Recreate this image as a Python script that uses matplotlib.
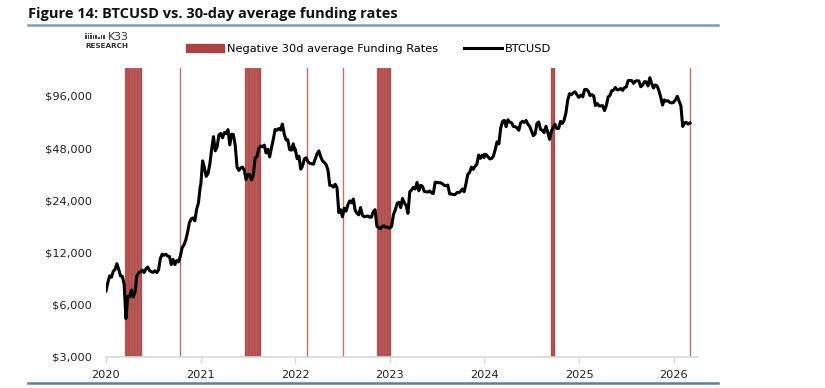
import matplotlib
matplotlib.use("Agg")
import matplotlib.pyplot as plt
import matplotlib.ticker as mticker
from matplotlib.lines import Line2D
from matplotlib.patches import Patch, Rectangle
import pandas as pd

plt.rcParams["font.family"] = ["DejaVu Sans"]

# weekly BTCUSD closes, one list per year, each starting Jan 1
btc_2020 = [7200, 8050, 8800, 8650, 9350, 9600, 10350, 9600, 8800, 8750,
            7900, 5000, 6700, 6650, 7300, 6650, 7100, 8800, 9150, 9300,
            9500, 9200, 9650, 9900, 9450, 9300, 9230, 9430, 9200, 9540,
            11100, 11750, 11580, 11750, 11450, 11400, 10230, 10950, 10230, 10780,
            10600, 11430, 12800, 13280, 14150, 15700, 17800, 18750, 19000, 18300,
            21300, 23200, 28900]
btc_2021 = [29400, 40500, 36800, 33000, 34300, 38900, 47200, 55900, 46300, 48800,
            57200, 58300, 55100, 59000, 58100, 61300, 50100, 57800, 57400, 49700,
            37300, 35700, 36900, 37300, 35800, 31600, 33800, 33800, 31500, 33600,
            42200, 42800, 47800, 49300, 48900, 50000, 45000, 47300, 42700, 48200,
            53900, 61500, 60900, 62200, 61000, 66000, 58100, 53600, 53600, 47100,
            46700, 50800, 46300]
btc_2022 = [47300, 41700, 43100, 36300, 37900, 41600, 42200, 40000, 39200, 39000,
            38800, 41500, 44500, 46300, 42800, 40500, 39700, 38500, 36000, 29300,
            29200, 28600, 29700, 28400, 20400, 21200, 19300, 21600, 20800, 22600,
            23800, 23200, 24400, 21100, 20200, 19800, 21800, 19700, 19300, 19400,
            19500, 19200, 19200, 20600, 21200, 17000, 16700, 16500, 17000, 17100,
            16800, 16800, 16600]
btc_2023 = [16600, 17000, 19900, 21100, 23000, 23400, 21800, 24600, 23200, 22400,
            20200, 26900, 27500, 28500, 27900, 30400, 27300, 29300, 28900, 27000,
            26900, 26800, 27200, 26500, 26300, 30500, 30500, 30300, 30300, 29900,
            29300, 29100, 29400, 26100, 26100, 25900, 25900, 26600, 26600, 27000,
            27900, 26900, 29900, 33900, 34700, 37300, 36200, 37700, 38700, 43800,
            41900, 43700, 42300]
btc_2024 = [44200, 44000, 42800, 41600, 41800, 43200, 47100, 52100, 50700, 62400,
            68300, 69400, 63800, 69900, 67800, 67200, 64000, 63800, 62900, 60800,
            67000, 68500, 67500, 69300, 66000, 64100, 60300, 56600, 57900, 66700,
            67900, 61400, 60900, 58900, 64100, 59100, 53900, 60000, 63200, 65800,
            62100, 62400, 68400, 66600, 69500, 76600, 91100, 98900, 97500, 99900,
            101400, 97800, 94200]
btc_2025 = [94400, 97000, 94700, 104400, 104700, 102400, 96500, 97500, 96100, 84400,
            86700, 84000, 84100, 84300, 79000, 84500, 94700, 96500, 102900, 103500,
            107300, 104000, 104300, 105900, 103300, 107100, 108000, 117500, 117900, 117600,
            113300, 116700, 117400, 116900, 108400, 110700, 115900, 115700, 109600, 122300,
            113200, 106500, 111000, 109500, 103000, 94500, 85000, 91000, 89500, 90000,
            88000, 87500, 87800]
btc_2026 = [88500, 91000, 95500, 89500, 84000, 64000, 67000, 67500, 66000, 67000]
btc_years = [2020, 2021, 2022, 2023, 2024, 2025, 2026]

# periods of negative 30d average funding
neg_start = ["2020-03-14", "2020-10-11", "2021-06-21", "2022-02-15",
             "2022-07-05", "2022-11-11", "2024-09-16", "2026-03-06"]
neg_end = ["2020-05-18", "2020-10-11", "2021-08-14", "2022-02-15",
           "2022-07-05", "2022-12-30", "2024-09-24", "2026-03-06"]

y_ticks = [3000, 6000, 12000, 24000, 48000, 96000]
x_years = [2020, 2021, 2022, 2023, 2024, 2025, 2026]

RED = "#A94442"
STRIPE = "#C27472"
GRAY = "#D9D9D9"
RULE = "#7F9CB9"

# build price series
yearly = [btc_2020, btc_2021, btc_2022, btc_2023, btc_2024, btc_2025, btc_2026]
parts = []
for yr, vals in zip(btc_years, yearly):
    parts.append(pd.Series(vals, index=pd.date_range(f"{yr}-01-01", periods=len(vals), freq="7D")))
btc = pd.concat(parts)

fig = plt.figure(figsize=(8.25, 3.88), dpi=100)
W, H = 825, 388
ax = fig.add_axes([106 / W, (H - 357) / H, (698 - 106) / W, (357 - 68) / H])

y_lo, y_hi = 3000, 139000
ax.set_yscale("log")
ax.set_ylim(y_lo, y_hi)
ax.set_xlim(pd.Timestamp("2020-01-01"), pd.Timestamp("2026-04-05"))

# negative funding bars (faint stripes like the original)
for s, e in zip(neg_start, neg_end):
    s, e = pd.Timestamp(s), pd.Timestamp(e)
    if (e - s).days < 3:
        ax.axvline(s, color=RED, lw=1.0, alpha=0.75, zorder=1)
        continue
    days = pd.date_range(s, e, freq="6D")
    ax.bar(days, y_hi - y_lo, bottom=y_lo, width=6, align="edge", color=RED,
           edgecolor=STRIPE, linewidth=0.3, zorder=1)

ax.plot(btc.index, btc.values, color="black", lw=2.2, zorder=3,
        solid_joinstyle="round")

ax.yaxis.set_major_locator(mticker.FixedLocator(y_ticks))
ax.yaxis.set_minor_locator(mticker.NullLocator())
ax.yaxis.set_major_formatter(mticker.FuncFormatter(lambda v, p: f"${v:,.0f}"))
ax.tick_params(axis="y", length=0, pad=10, labelsize=8.2, labelcolor="#222222")

ax.set_xticks([pd.Timestamp(f"{y}-01-01") for y in x_years])
ax.set_xticklabels([str(y) for y in x_years])
ax.tick_params(axis="x", length=4, width=1, color=GRAY, pad=5, labelsize=8.2,
               labelcolor="#222222")

for side in ["top", "right", "left"]:
    ax.spines[side].set_visible(False)
ax.spines["bottom"].set_color(GRAY)
ax.spines["bottom"].set_linewidth(1.2)

handles = [Patch(color=RED), Line2D([0], [0], color="black", lw=2.2)]
fig.legend(handles, ["Negative 30d average Funding Rates", "BTCUSD"],
           loc="center left", bbox_to_anchor=(186 / W, 1 - 49 / H), ncol=2,
           frameon=False, fontsize=8.2, handlelength=3.3, handletextpad=0.3,
           columnspacing=2.3, borderpad=0, borderaxespad=0)

# header
fig.text(28 / W, 1 - 14 / H, "Figure 14: BTCUSD vs. 30-day average funding rates",
         fontsize=10.5, fontweight="bold", family="Open Sans", va="center",
         ha="left", color="#111111")
fig.add_artist(Line2D([28 / W, 718 / W], [1 - 25 / H] * 2, color=RULE, lw=1.8))
fig.add_artist(Line2D([28 / W, 718 / W], [1 - 383 / H] * 2, color="#5B7FA3", lw=1.8))

# logo: small dot grid + name
for col, rows in enumerate([3, 3, 3, 2, 2, 1, 2, 2]):
    for r in range(rows):
        fig.add_artist(Rectangle(((85 + col * 2.6) / W, 1 - (39 - r * 2.3) / H),
                                 1.6 / W, 1.6 / H, color="#444444", lw=0,
                                 transform=fig.transFigure))
fig.text(108 / W, 1 - 36.5 / H, "K33", fontsize=7.8, va="center", ha="left",
         color="#333333")
fig.text(85 / W, 1 - 45.5 / H, "RESEARCH", fontsize=5.2, fontweight="bold",
         va="center", ha="left", color="#333333")

fig.savefig("out.png", dpi=100)
